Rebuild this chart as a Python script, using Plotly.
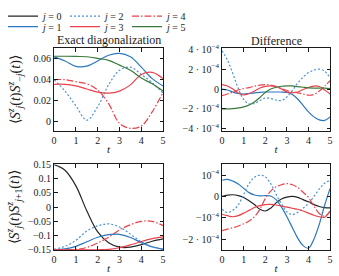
import numpy as np
import plotly.graph_objects as go

# ---------------- data ----------------
t_half = [0, 0.5, 1, 1.5, 2, 2.5, 3, 3.5, 4, 4.5, 5]
t_quarter = [0, 0.25, 0.5, 0.75, 1, 1.25, 1.5, 1.75, 2, 2.25, 2.5, 2.75, 3,
             3.25, 3.5, 3.75, 4, 4.25, 4.5, 4.75, 5]

# Exact diagonalization, <S_j^z(t) S_-j^z(t)>
ed_mirror_j1 = [0.062, 0.058, 0.0528, 0.0530, 0.058, 0.0635, 0.0653, 0.062, 0.052, 0.041, 0.034]
ed_mirror_j2 = [0.040, 0.029, 0.0148, 0.001, 0.014, 0.035, 0.049, 0.052, 0.045, 0.037, 0.027]
ed_mirror_j3 = [0.0355, 0.0355, 0.034, 0.031, 0.028, 0.027, 0.029, 0.035, 0.045, 0.047, 0.041]
ed_mirror_j4 = [0.040, 0.040, 0.038, 0.036, 0.030, 0.017, -0.002, -0.0068, -0.0046, 0.009, 0.028]
ed_mirror_j5 = [0.0625, 0.0625, 0.0623, 0.0620, 0.0605, 0.0585, 0.054, 0.049, 0.0415, 0.036, 0.029]

# Difference, <S_j^z(t) S_-j^z(t)> (units of 1e-4)
diff_mirror_j1 = [0.0, -0.1, -0.3, -0.45, -0.5, -0.45, -0.38, -0.33, -0.3, -0.3, -0.3, -0.3, -0.35,
                  -0.55, -1.0, -1.65, -2.3, -2.8, -3.1, -3.15, -2.8]
diff_mirror_j2 = [3.85, 2.9, 1.55, 0.05, -1.05, -1.5, -1.45, -1.15, -0.9, -0.95, -1.1, -1.15, -0.8,
                  -0.15, 0.6, 1.2, 1.65, 1.9, 2.0, 1.8, 1.1]
diff_mirror_j3 = [0.45, 0.3, 0.0, -0.4, -0.6, -0.45, -0.2, 0.1, 0.27, 0.32, 0.25, 0.0, -0.28,
                  -0.38, -0.3, -0.05, 0.15, 0.3, 0.25, -0.1, -0.5]
diff_mirror_j4 = [-0.66, -0.5, -0.3, -0.1, 0.05, 0.15, 0.28, 0.4, 0.45, 0.4, 0.25, 0.05, -0.15,
                  -0.28, -0.38, -0.5, -0.62, -0.55, -0.2, 0.3, 0.84]
diff_mirror_j5 = [-2.0, -2.0, -1.97, -1.9, -1.8, -1.6, -1.3, -0.85, -0.35, 0.0, 0.18, 0.28, 0.32,
                  0.32, 0.25, 0.18, 0.12, 0.1, 0.1, 0.1, 0.05]

# Exact diagonalization, <S_j^z(t) S_j+1^z(t)>
ed_next_j0 = [0.15, 0.13, 0.075, -0.013, -0.087, -0.125, -0.141, -0.141, -0.132, -0.12, -0.112]
ed_next_j1 = [-0.15, -0.147, -0.138, -0.122, -0.106, -0.097, -0.096, -0.107, -0.125, -0.14, -0.148]
ed_next_j2 = [-0.148, -0.138, -0.117, -0.084, -0.066, -0.059, -0.07, -0.095, -0.122, -0.14, -0.148]
ed_next_j3 = [-0.15, -0.15, -0.15, -0.15, -0.15, -0.149, -0.143, -0.133, -0.121, -0.111, -0.105]
ed_next_j4 = [-0.15, -0.15, -0.149, -0.142, -0.126, -0.106, -0.08, -0.062, -0.05, -0.05, -0.065]

# Difference, <S_j^z(t) S_j+1^z(t)> (units of 1e-4)
diff_next_j0 = [0.0, 0.06, 0.08, 0.04, -0.05, -0.2, -0.38, -0.6, -0.68, -0.55, -0.3, -0.12, -0.03,
                0.0, -0.04, -0.15, -0.25, -0.38, -0.47, -0.52, -0.53]
diff_next_j1 = [0.76, 0.8, 0.72, 0.58, 0.38, 0.18, 0.07, 0.03, 0.04, 0.02, -0.15, -0.5, -0.95,
                -1.45, -1.95, -2.3, -2.42, -2.0, -1.3, -0.4, 0.38]
diff_next_j2 = [-0.6, -0.75, -0.65, -0.4, 0.1, 0.6, 0.9, 1.0, 0.92, 0.6, 0.1, -0.35, -0.72,
                -0.85, -0.75, -0.55, -0.32, 0.0, 0.35, 0.62, 0.76]
diff_next_j3 = [-0.83, -0.9, -0.95, -0.9, -0.78, -0.65, -0.52, -0.43, -0.38, -0.37, -0.4, -0.45, -0.5,
                -0.55, -0.6, -0.68, -0.78, -0.88, -0.95, -0.97, -0.68]
diff_next_j4 = [-1.6, -1.53, -1.46, -1.38, -1.28, -1.15, -0.95, -0.6, -0.1, 0.25, 0.45, 0.55, 0.6,
                0.55, 0.42, 0.2, -0.05, -0.45, -0.8, -0.92, -0.68]
diff_unit = 1e-4

x_ticks = [0, 1, 2, 3, 4, 5]
tl_yticks = [0, 0.02, 0.04, 0.06]
tl_yticktext = ["0", "0.02", "0.04", "0.06"]
tr_yticks = [-4e-4, -2e-4, 0, 2e-4, 4e-4]
tr_yticktext = ["−4 · 10<sup>−4</sup>", "−2 · 10<sup>−4</sup>", "0", "2 · 10<sup>−4</sup>", "4 · 10<sup>−4</sup>"]
bl_yticks = [-0.15, -0.1, -0.05, 0, 0.05, 0.1, 0.15]
bl_yticktext = ["−0.15", "−0.1", "−0.05", "0", "0.05", "0.1", "0.15"]
br_yticks = [-2e-4, -1e-4, 0, 1e-4]
br_yticktext = ["−2 · 10<sup>−4</sup>", "−10<sup>−4</sup>", "0", "10<sup>−4</sup>"]

# ---------------- styles ----------------
FONT = "Liberation Serif"
INK = "#1a1a1a"
styles = {
    0: dict(color="#262626", dash="solid"),
    1: dict(color="#2a78c0", dash="solid"),
    2: dict(color="#4a90d9", dash="2px,2px"),
    3: dict(color="#e8424a", dash="solid"),
    4: dict(color="#e8424a", dash="7px,2px,1.5px,2px"),
    5: dict(color="#3a7a3a", dash="solid"),
}
LW = 1.2
legend_of = {0: "legend", 2: "legend", 4: "legend", 1: "legend2", 3: "legend2", 5: "legend2"}
shown = set()

fig = go.Figure()

def add(x, y, j, xa, ya, scale=1.0):
    y = np.array(y) * scale
    show = j not in shown
    shown.add(j)
    fig.add_trace(go.Scatter(
        x=x, y=y, mode="lines", xaxis=xa, yaxis=ya,
        line=dict(color=styles[j]["color"], dash=styles[j]["dash"], width=LW,
                  shape="spline", smoothing=1.0),
        name=f"<i>j</i> = {j}", showlegend=show, legend=legend_of[j],
        legendrank=j,
    ))

add(t_half, ed_next_j0, 0, "x3", "y3")
for j, ys in [(1, ed_mirror_j1), (2, ed_mirror_j2), (3, ed_mirror_j3), (4, ed_mirror_j4), (5, ed_mirror_j5)]:
    add(t_half, ys, j, "x", "y")
for j, ys in [(1, diff_mirror_j1), (2, diff_mirror_j2), (3, diff_mirror_j3), (4, diff_mirror_j4), (5, diff_mirror_j5)]:
    add(t_quarter, ys, j, "x2", "y2", diff_unit)
for j, ys in [(1, ed_next_j1), (2, ed_next_j2), (3, ed_next_j3), (4, ed_next_j4)]:
    add(t_half, ys, j, "x3", "y3")
for j, ys in [(0, diff_next_j0), (1, diff_next_j1), (2, diff_next_j2), (3, diff_next_j3), (4, diff_next_j4)]:
    add(t_quarter, ys, j, "x4", "y4", diff_unit)

W, H = 339, 276
def px_x(a, b):
    return [a / W, b / W]
def px_y(top, bottom):
    return [1 - bottom / H, 1 - top / H]

axis_common = dict(showline=True, linecolor=INK, linewidth=1, mirror="ticks",
                   ticks="inside", ticklen=3.5, tickwidth=0.8, tickcolor=INK,
                   showgrid=False, zeroline=False,
                   tickfont=dict(family=FONT, size=10, color=INK))

xt = dict(tickvals=x_ticks, ticktext=[str(v) for v in x_ticks], range=[0, 5])
xtitle = dict(text="<i>t</i>", font=dict(family=FONT, size=11, color=INK), standoff=0)

ytitle_top = "⟨<i>S</i><sup><i>z</i></sup><sub><i>j</i></sub>(<i>t</i>)<i>S</i><sup><i>z</i></sup><sub>−<i>j</i></sub>(<i>t</i>)⟩"
ytitle_bot = "⟨<i>S</i><sup><i>z</i></sup><sub><i>j</i></sub>(<i>t</i>)<i>S</i><sup><i>z</i></sup><sub><i>j</i>+1</sub>(<i>t</i>)⟩"

def ann(text, xpx, ypx, size, angle=0, xanchor="center", yanchor="middle"):
    return dict(text=text, x=xpx / W, y=1 - ypx / H, xref="paper", yref="paper",
                xanchor=xanchor, yanchor=yanchor, textangle=angle, showarrow=False,
                font=dict(family=FONT, size=size, color=INK))

legend_common = dict(orientation="h", x=0.0, xanchor="left", yanchor="middle",
                     bgcolor="rgba(0,0,0,0)", font=dict(family=FONT, size=10),
                     entrywidth=17, itemwidth=30, traceorder="normal")

fig.update_layout(
    width=W, height=H,
    margin=dict(l=0, r=0, t=0, b=0),
    paper_bgcolor="white", plot_bgcolor="white",
    font=dict(family=FONT, size=10, color=INK),
    xaxis=dict(domain=px_x(52, 163), anchor="y", title=xtitle, **xt, **axis_common),
    yaxis=dict(domain=px_y(44, 130), anchor="x", range=[-0.0092, 0.0702],
               tickvals=tl_yticks, ticktext=tl_yticktext, **axis_common),
    xaxis2=dict(domain=px_x(223, 333), anchor="y2", title=xtitle, **xt, **axis_common),
    yaxis2=dict(domain=px_y(44, 130), anchor="x2", range=[-4.2e-4, 4.1e-4],
                tickvals=tr_yticks, ticktext=tr_yticktext, **axis_common),
    xaxis3=dict(domain=px_x(52, 163), anchor="y3", title=xtitle, **xt, **axis_common),
    yaxis3=dict(domain=px_y(165, 254), anchor="x3", range=[-0.1505, 0.1505],
                tickvals=bl_yticks, ticktext=bl_yticktext, **axis_common),
    xaxis4=dict(domain=px_x(223, 333), anchor="y4", title=xtitle, **xt, **axis_common),
    yaxis4=dict(domain=px_y(165, 254), anchor="x4", range=[-2.5e-4, 1.5e-4],
                tickvals=br_yticks, ticktext=br_yticktext, **axis_common),
    legend=dict(y=1 - 10.5 / H, **legend_common),
    legend2=dict(y=1 - 21.5 / H, **legend_common),
    annotations=[
        ann("Exact diagonalization", (52 + 163) / 2, 35.5, 12),
        ann("Difference", (223 + 333) / 2, 36, 12),
        ann(ytitle_top, 12, 87, 14, angle=-90),
        ann(ytitle_bot, 11, 210, 14, angle=-90),
    ],
)

fig.write_html("out.html", config={"displayModeBar": False},
               post_script="document.body.style.margin='0px';")
